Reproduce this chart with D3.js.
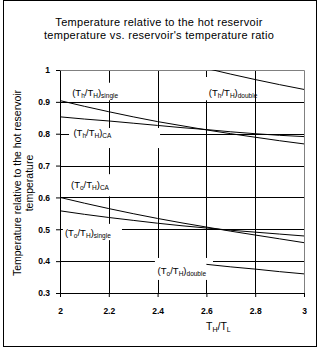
<!DOCTYPE html>
<html>
<head>
<meta charset="utf-8">
<script src="https://cdn.jsdelivr.net/npm/d3@7"></script>
<style>
  body { margin: 0; background: #fff; }
  svg { font-family: "Liberation Sans", Arial, sans-serif; }
</style>
</head>
<body>
<svg id="chart" width="322" height="350"></svg>
<script>
// values
const ratios = [2.0, 2.1, 2.2, 2.3, 2.4, 2.5, 2.6, 2.7, 2.8, 2.9, 3.0];
const thSingle = [0.904, 0.886, 0.869, 0.853, 0.838, 0.825, 0.812, 0.800, 0.789, 0.778, 0.768];
const thCA     = [0.853, 0.846, 0.840, 0.833, 0.826, 0.819, 0.813, 0.806, 0.800, 0.795, 0.791];
const toCA     = [0.600, 0.582, 0.565, 0.549, 0.534, 0.520, 0.507, 0.494, 0.482, 0.470, 0.458];
const toSingle = [0.558, 0.547, 0.537, 0.528, 0.519, 0.511, 0.504, 0.497, 0.491, 0.485, 0.479];
const ratiosDouble = [2.6, 2.7, 2.8, 2.9, 3.0];
const thDouble = [1.005, 0.987, 0.970, 0.954, 0.939];
const toDouble = [0.390, 0.382, 0.375, 0.367, 0.360];
const xTicks = [2, 2.2, 2.4, 2.6, 2.8, 3];
const yTicks = [0.3, 0.4, 0.5, 0.6, 0.7, 0.8, 0.9, 1];

const margin = {top: 70, right: 18, bottom: 57, left: 60};
const fullWidth = 322, fullHeight = 350;
const width = fullWidth - margin.left - margin.right;
const height = fullHeight - margin.top - margin.bottom;

const svg = d3.select('#chart');

// outer frame
svg.append('rect')
    .attr('x', 3.5).attr('y', 0.5)
    .attr('width', 313).attr('height', 346)
    .attr('fill', '#fff').attr('stroke', '#000');

// title
svg.append('text')
    .attr('x', 159).attr('y', 26)
    .attr('text-anchor', 'middle')
    .style('font-size', '11px')
    .style('letter-spacing', '0.3px')
    .selectAll('tspan')
    .data(['Temperature relative to the hot reservoir', "temperature vs. reservoir's temperature ratio"])
    .enter().append('tspan')
      .attr('x', 159)
      .attr('dy', (d, i) => i ? 13 : 0)
      .text(d => d);

const x = d3.scaleLinear().domain([2, 3]).range([0, width]);
const y = d3.scaleLinear().domain([0.3, 1]).range([height, 0]);

const g = svg.append('g')
    .attr('transform', 'translate(' + margin.left + ',' + margin.top + ')');

g.append('clipPath').attr('id', 'plotclip')
  .append('rect').attr('width', width).attr('height', height);

// gridlines
g.selectAll('.hgrid')
  .data(yTicks.slice(1, -1))
  .enter().append('line')
    .attr('x1', 0).attr('x2', width)
    .attr('y1', d => Math.round(y(d)) + 0.5).attr('y2', d => Math.round(y(d)) + 0.5)
    .attr('stroke', '#000');
g.selectAll('.vgrid')
  .data(xTicks.slice(1, -1))
  .enter().append('line')
    .attr('y1', 0).attr('y2', height)
    .attr('x1', d => Math.round(x(d)) + 0.5).attr('x2', d => Math.round(x(d)) + 0.5)
    .attr('stroke', '#000');

// plot border (top / right grey)
g.append('path')
    .attr('d', 'M0.5,0.5H' + (width + 0.5) + 'V' + (height + 0.5))
    .attr('fill', 'none').attr('stroke', '#808080');

// data labels: white boxes hide the gridlines behind them
const labels = [
  {a: 'h', b: 'single', x: 2.05,  y: 0.928, box: [2.03, 2.28, 0.96, 0.905]},
  {a: 'h', b: 'CA',     x: 2.055, y: 0.805, box: [2.037, 2.41, 0.818, 0.755]},
  {a: 'h', b: 'double', x: 2.61,  y: 0.928, box: [2.59, 2.795, 0.978, 0.905]},
  {a: 'o', b: 'CA',     x: 2.045, y: 0.64,  box: [2.012, 2.213, 0.673, 0.603]},
  {a: 'o', b: 'single', x: 2.02,  y: 0.491, box: [2.012, 2.254, 0.517, 0.466]},
  {a: 'o', b: 'double', x: 2.40,  y: 0.372, box: [2.389, 2.627, 0.41, 0.341]}
];

g.selectAll('.lblbox')
  .data(labels)
  .enter().append('rect')
    .attr('x', d => x(d.box[0])).attr('width', d => x(d.box[1]) - x(d.box[0]))
    .attr('y', d => y(d.box[2])).attr('height', d => y(d.box[3]) - y(d.box[2]))
    .attr('fill', '#fff');

// axes
const xAxis = g.append('g')
    .attr('transform', 'translate(0,' + height + ')')
    .call(d3.axisBottom(x).tickValues(xTicks).tickSizeInner(4).tickSizeOuter(0).tickPadding(11)
      .tickFormat(d3.format('')));
const yAxis = g.append('g')
    .call(d3.axisLeft(y).tickValues(yTicks).tickSizeInner(4).tickSizeOuter(0).tickPadding(6)
      .tickFormat(d3.format('')));
[xAxis, yAxis].forEach(ax => {
  ax.select('.domain').attr('stroke', '#000');
  ax.selectAll('text')
    .style('font-size', '8.5px')
    .style('font-weight', 'bold')
    .attr('fill', '#000');
});

// series
const line = d3.line().x(d => x(d[0])).y(d => y(d[1]));
const series = [
  d3.zip(ratios, thSingle), d3.zip(ratios, thCA),
  d3.zip(ratios, toCA), d3.zip(ratios, toSingle),
  d3.zip(ratiosDouble, thDouble), d3.zip(ratiosDouble, toDouble)
];
g.append('g').attr('clip-path', 'url(#plotclip)')
  .selectAll('path')
  .data(series)
  .enter().append('path')
    .attr('d', line)
    .attr('fill', 'none')
    .attr('stroke', '#000')
    .attr('stroke-width', 1);

// label text with subscripts
labels.forEach(d => {
  const t = g.append('text')
      .attr('x', x(d.x)).attr('y', y(d.y) + 3.5)
      .style('font-size', '9.5px');
  const parts = [['(T', 0], [d.a, 1], ['/T', 0], ['H', 1], [')', 0], [d.b, 1]];
  let shifted = false;
  parts.forEach(p => {
    const s = t.append('tspan').text(p[0]);
    if (p[1] && !shifted) { s.attr('dy', 2); shifted = true; }
    if (!p[1] && shifted) { s.attr('dy', -2); shifted = false; }
    if (p[1]) s.style('font-size', '6.5px');
  });
});

// axis titles
const xt = svg.append('text')
    .attr('x', 206).attr('y', 330)
    .style('font-size', '10.5px');
xt.append('tspan').text('T');
xt.append('tspan').text('H').attr('dy', 2).style('font-size', '7px');
xt.append('tspan').text('/T').attr('dy', -2);
xt.append('tspan').text('L').attr('dy', 2).style('font-size', '7px');

svg.append('text')
    .attr('transform', 'translate(21,183) rotate(-90)')
    .attr('text-anchor', 'middle')
    .style('font-size', '10.5px')
    .selectAll('tspan')
    .data(['Temperature relative to the hot reservoir', 'temperature'])
    .enter().append('tspan')
      .attr('x', 0)
      .attr('dy', (d, i) => i ? 12 : 0)
      .text(d => d);
</script>
</body>
</html>
